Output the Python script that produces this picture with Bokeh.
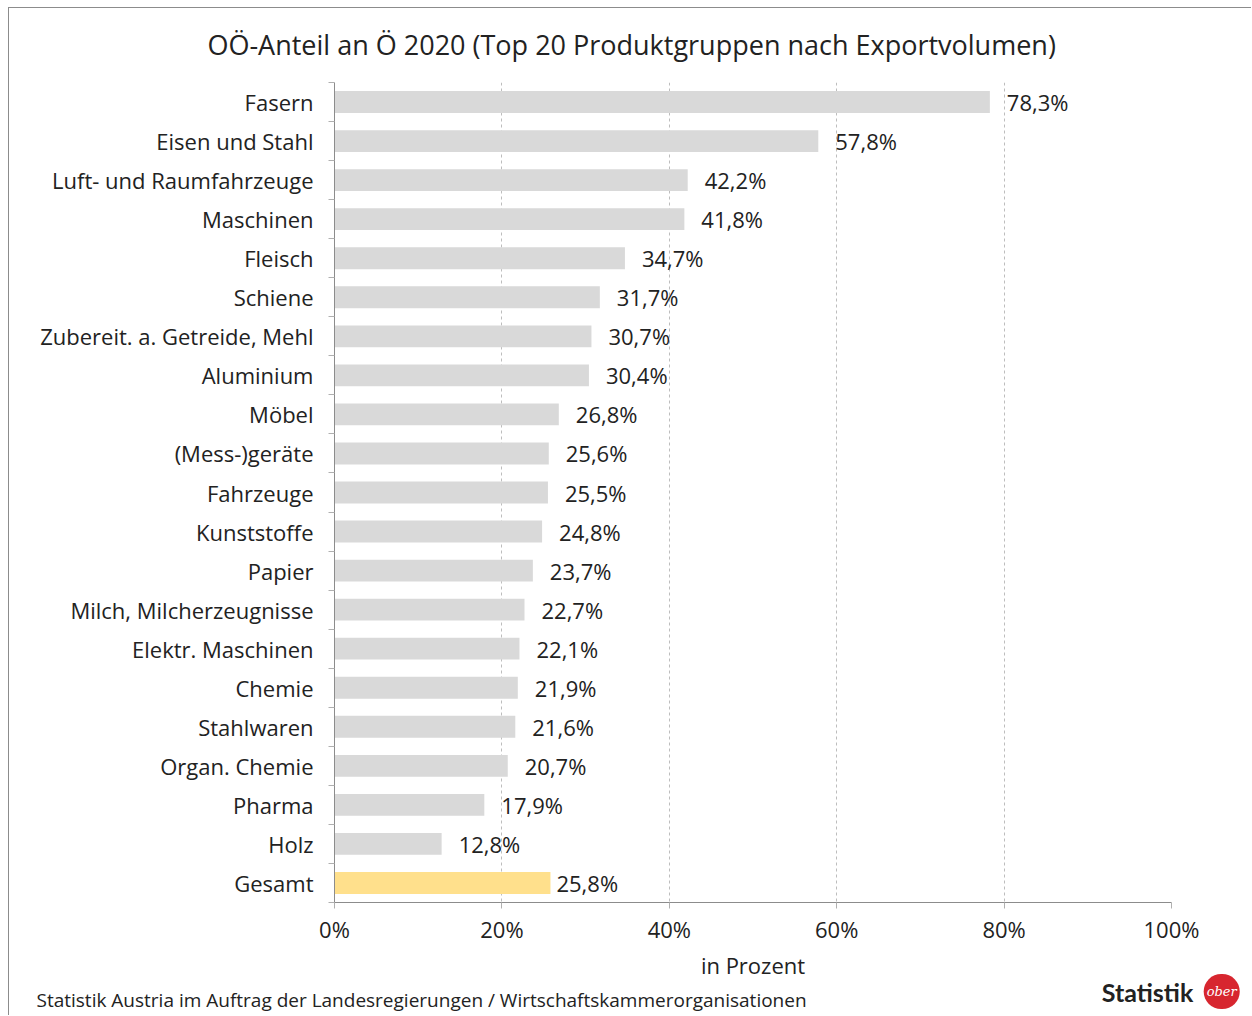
from bokeh.plotting import figure
from bokeh.models import (ColumnDataSource, Range1d, FixedTicker, LinearAxis, Title, Label)
from bokeh.embed import file_html
from bokeh.resources import INLINE

categories = ["Fasern", "Eisen und Stahl", "Luft- und Raumfahrzeuge", "Maschinen", "Fleisch",
              "Schiene", "Zubereit. a. Getreide, Mehl", "Aluminium", "Möbel", "(Mess-)geräte",
              "Fahrzeuge", "Kunststoffe", "Papier", "Milch, Milcherzeugnisse", "Elektr. Maschinen",
              "Chemie", "Stahlwaren", "Organ. Chemie", "Pharma", "Holz", "Gesamt"]
values = [78.3, 57.8, 42.2, 41.8, 34.7, 31.7, 30.7, 30.4, 26.8, 25.6, 25.5, 24.8, 23.7, 22.7,
          22.1, 21.9, 21.6, 20.7, 17.9, 12.8, 25.8]
x_ticks = [0, 20, 40, 60, 80, 100]
x_tick_labels = ["0%", "20%", "40%", "60%", "80%", "100%"]

FONT = "Open Sans"
TXT = "#222222"

n = len(categories)
ypos = list(range(n))
colors = ["#d9d9d9"] * (n - 1) + ["#ffe08c"]
labels = [f"{v:.1f}".replace(".", ",") + "%" for v in values]
offsets = [17] * (n - 1) + [6]

src = ColumnDataSource(dict(y=ypos, v=values, c=colors, lab=labels, off=offsets))

p = figure(width=1243, height=1008, output_backend="svg", toolbar_location=None,
           x_range=Range1d(0, 100), y_range=Range1d(n - 0.5, -0.5),
           min_border_left=325, min_border_right=81, min_border_top=74, min_border_bottom=114,
           x_axis_location=None, y_axis_location=None)
p.styles = {"border-left": "1px solid #8c8c8c", "border-top": "1px solid #8c8c8c",
            "margin-left": "8px", "margin-top": "7px"}
p.outline_line_color = None
p.background_fill_color = "white"
p.border_fill_color = "white"

p.hbar(y="y", right="v", left=0, height=0.56, color="c", source=src, line_color=None)
p.text(x="v", y="y", text="lab", source=src, x_offset="off", text_baseline="middle",
       text_align="left", text_font_size="22px", text_color=TXT,
       text_font={"value": FONT})

# x axis
xa = LinearAxis(ticker=FixedTicker(ticks=x_ticks),
                major_label_overrides={t: l for t, l in zip(x_ticks, x_tick_labels)})
xa.axis_line_color = "#8c8c8c"
xa.major_tick_line_color = "#b0b0b0"
xa.major_tick_out = 6
xa.major_tick_in = 0
xa.minor_tick_line_color = None
xa.major_label_text_font = FONT
xa.major_label_text_font_size = "22px"
xa.major_label_text_color = TXT
xa.major_label_standoff = 5
xa.axis_label = "in Prozent"
xa.axis_label_text_font = FONT
xa.axis_label_text_font_size = "22px"
xa.axis_label_text_font_style = "normal"
xa.axis_label_text_color = TXT
xa.axis_label_standoff = 3
p.add_layout(xa, "below")

# y axis
ya = LinearAxis(ticker=FixedTicker(ticks=ypos, minor_ticks=[i - 0.5 for i in range(n + 1)]),
                major_label_overrides={i: c for i, c in zip(ypos, categories)})
ya.axis_line_color = "#8c8c8c"
ya.major_tick_line_color = None
ya.major_tick_out = 0
ya.major_tick_in = 0
ya.minor_tick_line_color = "#b0b0b0"
ya.minor_tick_out = 6
ya.minor_tick_in = 0
ya.major_label_text_font = FONT
ya.major_label_text_font_size = "22px"
ya.major_label_text_color = TXT
ya.major_label_standoff = 15
p.add_layout(ya, "left")

p.xgrid.ticker = FixedTicker(ticks=x_ticks[1:])
p.xgrid.grid_line_color = "#bdbdbd"
p.xgrid.grid_line_dash = "3 3"
p.ygrid.grid_line_color = None

# title and logo word live in the top panel (not clipped), placed via plot coordinates
p.add_layout(Label(x=102.6, y=22.78, text="Statistik",
                   text_align="right", text_baseline="middle", text_font="Lato",
                   text_font_size="25px", text_font_style="bold", text_color=TXT), "above")
p.add_layout(Label(x=35.5, y=-1.47,
                   text="OÖ-Anteil an Ö 2020 (Top 20 Produktgruppen nach Exportvolumen)",
                   text_align="center", text_baseline="middle", text_font=FONT,
                   text_font_size="27px", text_color=TXT), "above")
p.add_layout(Title(text="Statistik Austria im Auftrag der Landesregierungen / Wirtschaftskammerorganisationen",
                   align="left", offset=-298, standoff=4, text_font=FONT,
                   text_font_size="19px", text_font_style="normal", text_color=TXT), "below")
p.add_layout(Label(x=106.0, y=22.78, text="ober", text_align="center", text_baseline="middle",
                   text_font="DejaVu Serif", text_font_size="13px", text_font_style="italic",
                   text_color="white", background_fill_color="#d7262f",
                   padding=dict(left=3, right=3, top=10, bottom=10),
                   border_radius=18), "right")

open("out.html", "w").write(file_html(p, INLINE))
